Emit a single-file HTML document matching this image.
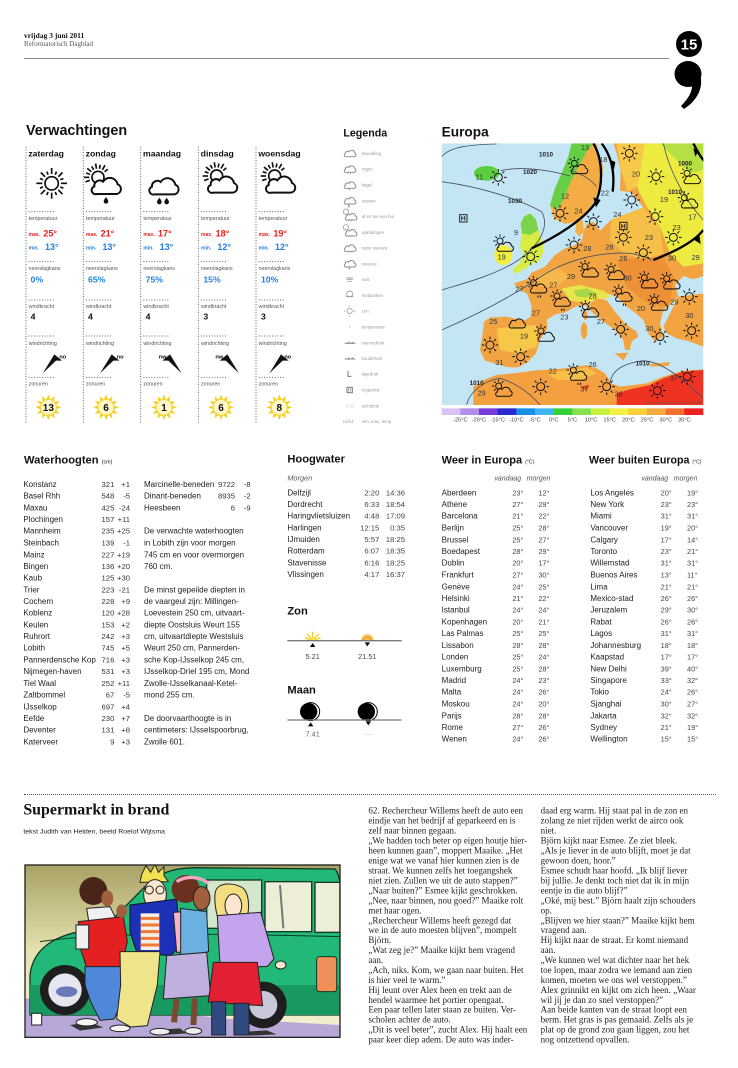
<!DOCTYPE html>
<html><head><meta charset="utf-8">
<style>
body{margin:0;width:738px;height:1068px;background:#fff;position:relative;overflow:hidden;font-family:"Liberation Sans",sans-serif;}
svg{position:absolute;display:block;overflow:visible}
.ab{position:absolute;white-space:nowrap}
</style></head><body>

<div class="ab" style="left:24px;top:31px;font:bold 7.5px 'Liberation Serif',serif;color:#111">vrijdag 3 juni 2011</div>
<div class="ab" style="left:24px;top:40px;font:7px 'Liberation Serif',serif;color:#555">Reformatorisch Dagblad</div>
<div class="ab" style="left:24px;top:58px;width:645px;height:1px;background:#8a8a8a"></div>
<svg style="left:660px;top:25px" width="60" height="90" viewBox="0 0 60 90">
<circle cx="29" cy="19" r="13" fill="#000"/>
<text x="29" y="24.5" font-size="15" font-weight="bold" fill="#fff" text-anchor="middle" font-family="Liberation Sans">15</text>
<ellipse cx="28" cy="49" rx="13.5" ry="13" fill="#000"/>
<path d="M36,42 C45,53 43,72 24,84 L21,81 C32,70 34,61 30,57 Z" fill="#000"/>
</svg>

<!-- Verwachtingen -->
<svg style="left:20px;top:120px" width="310" height="310" viewBox="0 0 930 930" font-family="Liberation Sans">
<defs>
<path id="cl" d="M18,55 H76 A15,15 0 0 0 80,26 A24,24 0 0 0 36,18 A16,16 0 0 0 10,32 A12,12 0 0 0 18,55 Z" fill="#fff" stroke="#111" stroke-width="6"/>
<g id="rays" stroke="#111" stroke-width="5"><line x1="0" y1="-26" x2="0" y2="-40" transform="rotate(-110)"/><line x1="0" y1="-26" x2="0" y2="-42" transform="rotate(-90)"/><line x1="0" y1="-26" x2="0" y2="-38" transform="rotate(-70)"/><line x1="0" y1="-26" x2="0" y2="-42" transform="rotate(-50)"/><line x1="0" y1="-26" x2="0" y2="-38" transform="rotate(-30)"/><line x1="0" y1="-26" x2="0" y2="-42" transform="rotate(-10)"/><line x1="0" y1="-26" x2="0" y2="-38" transform="rotate(10)"/><line x1="0" y1="-26" x2="0" y2="-42" transform="rotate(30)"/><line x1="0" y1="-26" x2="0" y2="-38" transform="rotate(50)"/></g>
<path id="drop" d="M0,-9 C3,-4 7,0 7,4 A7,7 0 0 1 -7,4 C-7,0 -3,-4 0,-9Z" fill="#111"/>
<g id="badge"><g fill="#f5cf1a"><polygon points="0,-39 5,-25 -5,-25"/><polygon points="0,-39 5,-25 -5,-25" transform="rotate(30)"/><polygon points="0,-39 5,-25 -5,-25" transform="rotate(60)"/><polygon points="0,-39 5,-25 -5,-25" transform="rotate(90)"/><polygon points="0,-39 5,-25 -5,-25" transform="rotate(120)"/><polygon points="0,-39 5,-25 -5,-25" transform="rotate(150)"/><polygon points="0,-39 5,-25 -5,-25" transform="rotate(180)"/><polygon points="0,-39 5,-25 -5,-25" transform="rotate(210)"/><polygon points="0,-39 5,-25 -5,-25" transform="rotate(240)"/><polygon points="0,-39 5,-25 -5,-25" transform="rotate(270)"/><polygon points="0,-39 5,-25 -5,-25" transform="rotate(300)"/><polygon points="0,-39 5,-25 -5,-25" transform="rotate(330)"/></g><circle r="24" fill="#fff7c8" stroke="#f5d020" stroke-width="3"/></g>
</defs>
<text x="18" y="45" font-size="43" font-weight="bold" fill="#111">Verwachtingen</text>
<g stroke="#666" stroke-width="3" stroke-dasharray="3 5">
<line x1="18" y1="80" x2="18" y2="912"/><line x1="190" y1="80" x2="190" y2="912"/><line x1="362" y1="80" x2="362" y2="912"/><line x1="535" y1="80" x2="535" y2="912"/><line x1="708" y1="80" x2="708" y2="912"/>
<path d="M26,275H103M198,275H275M370,275H447M543,275H620M716,275H793 M26,425H103M198,425H275M370,425H447M543,425H620M716,425H793 M26,540H103M198,540H275M370,540H447M543,540H620M716,540H793 M26,648H103M198,648H275M370,648H447M543,648H620M716,648H793 M26,772H103M198,772H275M370,772H447M543,772H620M716,772H793"/>
</g>
<g font-size="26" font-weight="bold" fill="#111">
<text x="25" y="110">zaterdag</text><text x="197" y="110">zondag</text><text x="369" y="110">maandag</text><text x="542" y="110">dinsdag</text><text x="715" y="110">woensdag</text>
</g>
<g transform="translate(95,190)" stroke="#111" stroke-width="5" fill="none"><circle r="20"/>
<g><line x1="0" y1="-28" x2="0" y2="-46"/><line x1="0" y1="-28" x2="0" y2="-38" transform="rotate(22.5)"/><line x1="0" y1="-28" x2="0" y2="-46" transform="rotate(45)"/><line x1="0" y1="-28" x2="0" y2="-38" transform="rotate(67.5)"/><line x1="0" y1="-28" x2="0" y2="-46" transform="rotate(90)"/><line x1="0" y1="-28" x2="0" y2="-38" transform="rotate(112.5)"/><line x1="0" y1="-28" x2="0" y2="-46" transform="rotate(135)"/><line x1="0" y1="-28" x2="0" y2="-38" transform="rotate(157.5)"/><line x1="0" y1="-28" x2="0" y2="-46" transform="rotate(180)"/><line x1="0" y1="-28" x2="0" y2="-38" transform="rotate(202.5)"/><line x1="0" y1="-28" x2="0" y2="-46" transform="rotate(225)"/><line x1="0" y1="-28" x2="0" y2="-38" transform="rotate(247.5)"/><line x1="0" y1="-28" x2="0" y2="-46" transform="rotate(270)"/><line x1="0" y1="-28" x2="0" y2="-38" transform="rotate(292.5)"/><line x1="0" y1="-28" x2="0" y2="-46" transform="rotate(315)"/><line x1="0" y1="-28" x2="0" y2="-38" transform="rotate(337.5)"/></g></g>
<g transform="translate(234,172)"><circle r="18" fill="none" stroke="#111" stroke-width="5"/><use href="#rays"/></g>
<use href="#cl" transform="translate(213,167)"/><use href="#drop" x="258" y="240"/>
<use href="#cl" transform="translate(386,168)"/><use href="#drop" x="418" y="242"/><use href="#drop" x="440" y="242"/>
<g transform="translate(590,168)"><circle r="18" fill="none" stroke="#111" stroke-width="5"/><use href="#rays"/></g>
<use href="#cl" transform="translate(562,163)"/>
<g transform="translate(764,168)"><circle r="18" fill="none" stroke="#111" stroke-width="5"/><use href="#rays"/></g>
<use href="#cl" transform="translate(736,163)"/>
<g font-size="16" fill="#555">
<text x="26" y="300">temperatuur</text><text x="198" y="300">temperatuur</text><text x="370" y="300">temperatuur</text><text x="543" y="300">temperatuur</text><text x="716" y="300">temperatuur</text>
<text x="26" y="450">neerslagkans</text><text x="198" y="450">neerslagkans</text><text x="370" y="450">neerslagkans</text><text x="543" y="450">neerslagkans</text><text x="716" y="450">neerslagkans</text>
<text x="26" y="564">windkracht</text><text x="198" y="564">windkracht</text><text x="370" y="564">windkracht</text><text x="543" y="564">windkracht</text><text x="716" y="564">windkracht</text>
<text x="26" y="675">windrichting</text><text x="198" y="675">windrichting</text><text x="370" y="675">windrichting</text><text x="543" y="675">windrichting</text><text x="716" y="675">windrichting</text>
<text x="26" y="796">zonuren</text><text x="198" y="796">zonuren</text><text x="370" y="796">zonuren</text><text x="543" y="796">zonuren</text><text x="716" y="796">zonuren</text>
</g>
<g fill="#e8201c" font-weight="bold">
<g font-size="15"><text x="26" y="348">max.</text><text x="198" y="348">max.</text><text x="370" y="348">max.</text><text x="543" y="348">max.</text><text x="716" y="348">max.</text></g>
<g font-size="27"><text x="70" y="350">25°</text><text x="242" y="350">21°</text><text x="414" y="350">17°</text><text x="587" y="350">18°</text><text x="760" y="350">19°</text></g>
</g>
<g fill="#2080e0" font-weight="bold">
<g font-size="15"><text x="26" y="388">min.</text><text x="198" y="388">min.</text><text x="370" y="388">min.</text><text x="543" y="388">min.</text><text x="716" y="388">min.</text></g>
<g font-size="27"><text x="75" y="390">13°</text><text x="247" y="390">13°</text><text x="419" y="390">13°</text><text x="592" y="390">12°</text><text x="765" y="390">12°</text></g>
<g font-size="26"><text x="32" y="487">0%</text><text x="204" y="487">65%</text><text x="377" y="487">75%</text><text x="550" y="487">15%</text><text x="723" y="487">10%</text></g>
</g>
<g font-size="26" font-weight="bold" fill="#111"><text x="32" y="598">4</text><text x="204" y="598">4</text><text x="377" y="598">4</text><text x="550" y="598">3</text><text x="723" y="598">3</text></g>
<g fill="#111">
<polygon points="68,760 103,703 126,722 108,722"/><polygon points="240,760 275,703 298,722 280,722"/>
<polygon points="485,760 450,703 427,722 445,722"/><polygon points="657,760 622,703 599,722 617,722"/>
<polygon points="748,760 783,703 806,722 788,722"/>
</g>
<g font-size="17" font-weight="bold" fill="#111"><text x="118" y="716">no</text><text x="290" y="716">no</text><text x="416" y="716">nw</text><text x="586" y="716">nw</text><text x="793" y="716">no</text></g>
<use href="#badge" x="85" y="862"/><use href="#badge" x="258" y="862"/><use href="#badge" x="432" y="862"/><use href="#badge" x="603" y="862"/><use href="#badge" x="778" y="862"/>
<g font-size="30" font-weight="bold" fill="#111" text-anchor="middle"><text x="85" y="873">13</text><text x="258" y="873">6</text><text x="432" y="873">1</text><text x="603" y="873">6</text><text x="778" y="873">8</text></g>
</svg>

<!-- Legenda -->
<svg style="left:330px;top:120px" width="110" height="310" viewBox="0 0 330 930" font-family="Liberation Sans">
<defs><path id="lc" d="M18,55 H76 A15,15 0 0 0 80,26 A24,24 0 0 0 36,18 A16,16 0 0 0 10,32 A12,12 0 0 0 18,55 Z" fill="#fff" stroke="#888" stroke-width="7" transform="scale(0.4)"/></defs>
<text x="40" y="50" font-size="32" font-weight="bold" fill="#111">Legenda</text>
<g>
<use href="#lc" x="42" y="88"/>
<use href="#lc" x="42" y="135"/><path d="M54,158v4M62,158v4" stroke="#888" stroke-width="2"/>
<use href="#lc" x="42" y="183"/><path d="M58,206v4" stroke="#888" stroke-width="3"/>
<use href="#lc" x="42" y="230"/><path d="M57,252l-3,6h5l-3,6" stroke="#888" stroke-width="2" fill="none"/>
<circle cx="48" cy="275" r="8" fill="none" stroke="#888" stroke-width="2"/><use href="#lc" x="45" y="278"/><path d="M56,300v4M63,300v4" stroke="#888" stroke-width="2"/>
<circle cx="48" cy="322" r="8" fill="none" stroke="#888" stroke-width="2"/><use href="#lc" x="45" y="326"/>
<use href="#lc" x="42" y="372"/><path d="M54,394v4M63,394v4" stroke="#888" stroke-width="2"/>
<use href="#lc" x="42" y="419"/><path d="M58,442v6M55,445h6" stroke="#888" stroke-width="2"/>
<path d="M48,474h22M50,479h18M52,484h14" stroke="#888" stroke-width="2"/>
<circle cx="59" cy="522" r="9" fill="none" stroke="#888" stroke-width="2"/><path d="M48,530h22" stroke="#888" stroke-width="2"/>
<circle cx="59" cy="573" r="8" fill="none" stroke="#888" stroke-width="2"/><path d="M59,560v-4M59,586v4M46,573h-4M72,573h4" stroke="#888" stroke-width="2"/>
<circle cx="59" cy="620" r="2" fill="#aaa"/>
<path d="M44,670h32" stroke="#888" stroke-width="3"/><path d="M52,670a4,4 0 0 1 8,0M63,670a4,4 0 0 1 8,0" fill="#888"/>
<path d="M44,717h32" stroke="#888" stroke-width="3"/><path d="M52,717l4,-6l4,6M63,717l4,-6l4,6" fill="#888"/>
<path d="M54,753v16h10" stroke="#777" stroke-width="3" fill="none"/>
<rect x="51" y="802" width="16" height="16" fill="none" stroke="#777" stroke-width="3"/><path d="M56,805v10M62,805v10" stroke="#777" stroke-width="2"/>
</g>
<g font-size="13" fill="#999">
<text x="95" y="105">bewolking</text><text x="95" y="152">regen</text><text x="95" y="200">hagel</text><text x="95" y="247">onweer</text><text x="95" y="294">af en toe een bui</text><text x="95" y="342">opklaringen</text><text x="95" y="389">natte sneeuw</text><text x="95" y="436">sneeuw</text><text x="95" y="483">mist</text><text x="95" y="531">motbanken</text><text x="95" y="578">zon</text><text x="95" y="625">temperatuur</text><text x="95" y="673">warmtefront</text><text x="95" y="720">koudefront</text><text x="95" y="767">lagedruk</text><text x="95" y="815">hogedruk</text><text x="95" y="862">luchtdruk</text><text x="95" y="909">min. max. temp.</text>
<text x="45" y="862" fill="#ccc">1010</text><text x="38" y="909">10/14</text>
</g>
</svg>

<!-- Europa map -->
<svg style="left:430px;top:120px" width="290" height="310" viewBox="0 0 870 930" font-family="Liberation Sans">
<defs>
<clipPath id="mapc"><rect x="35" y="70" width="785" height="785"/></clipPath>
<g id="ms" fill="none" stroke="#111" stroke-width="3"><circle r="12"/><path d="M0,-17V-25M0,17V25M-17,0H-25M17,0H25M12,-12L18,-18M-12,-12L-18,-18M12,12L18,18M-12,12L-18,18"/></g>
<path id="mcp" d="M18,55 H76 A15,15 0 0 0 80,26 A24,24 0 0 0 36,18 A16,16 0 0 0 10,32 A12,12 0 0 0 18,55 Z" transform="translate(-22,-12) scale(0.56)" fill="none" stroke="#111" stroke-width="5.5"/>
<g id="mcs"><g transform="translate(-12,-12)" fill="none" stroke="#111" stroke-width="3"><circle r="9"/><path d="M0,-13V-20M-13,0H-20M-9,-9L-14,-14M9,-9L14,-14M-9,9L-14,14"/></g><use href="#mcp"/></g>
<g id="mr"><use href="#mcs"/><path d="M2,26v7M9,26v7" stroke="#111" stroke-width="3"/></g>
</defs>
<text x="35" y="50" font-size="41" font-weight="bold" fill="#111">Europa</text>
<g clip-path="url(#mapc)">
<rect x="35" y="70" width="785" height="785" fill="#c4e6f4"/>
<ellipse cx="170" cy="160" rx="38" ry="22" fill="#5ccc40"/>
<polygon points="360,255 372,295 405,312 440,305 470,280 495,240 515,185 520,140 505,100 500,70 425,70 415,110 395,160 375,205" fill="#f4ad45"/>
<polygon points="360,255 380,270 400,240 420,190 445,140 470,95 490,70 425,70 415,110 395,160 375,205" fill="#66cf46"/>
<polygon points="550,70 820,70 820,468 790,478 760,468 735,495 745,530 720,555 700,570 690,610 700,650 675,665 655,640 640,600 615,578 590,560 560,530 525,518 500,532 470,556 440,558 405,578 375,583 350,600 352,625 330,660 318,700 295,725 265,742 235,742 200,732 165,722 150,690 158,640 162,605 180,592 230,590 282,602 302,590 305,558 292,522 262,505 252,490 290,478 305,458 345,440 375,405 405,385 430,378 455,362 462,330 470,312 490,305 510,332 545,298 600,290 640,262 605,218 570,212 572,150 560,100" fill="#f2a443"/>
<polygon points="640,70 820,70 820,430 760,440 720,400 690,320 650,260 625,210 605,130" fill="#eeeb40"/>
<polygon points="690,70 820,70 820,150 780,160 740,120" fill="#b4e044"/>
<polygon points="560,70 645,70 622,200 592,215 573,150" fill="#f8c84a"/>
<polygon points="545,298 640,262 690,320 700,400 640,420 580,400 540,360" fill="#f6c048"/>
<polygon points="560,420 700,410 730,470 720,555 690,560 640,540 590,500" fill="#ee9036"/>
<polygon points="395,505 450,495 520,512 545,530 500,542 462,548 420,542" fill="#e8e44a"/>
<polygon points="430,512 470,505 500,520 470,532 440,530" fill="#a8d848"/>
<polygon points="200,625 320,615 322,680 260,700 210,690" fill="#f6c848"/>
<polygon points="320,470 380,440 420,470 380,500 330,500" fill="#f6b84a"/>
<polygon points="282,290 300,280 318,298 325,330 338,365 340,395 330,420 305,432 282,448 255,462 248,448 268,430 282,405 270,380 276,340 272,310" fill="#d8ec44"/>
<polygon points="282,290 300,280 318,298 325,330 300,345 276,340 272,310" fill="#7cd448"/>
<ellipse cx="220" cy="405" rx="27" ry="30" fill="#f0ec40"/>
<polygon points="440,305 458,300 462,335 448,350 435,335" fill="#f4b048"/>
<polygon points="500,535 530,540 555,575 585,610 620,635 625,650 605,665 600,690 585,690 580,660 555,630 520,605 490,580 470,560" fill="#f3a442"/>
<polygon points="555,700 595,698 580,722" fill="#f3a442"/>
<ellipse cx="462" cy="632" rx="10" ry="25" fill="#f3a442"/><ellipse cx="466" cy="585" rx="7" ry="15" fill="#f3a442"/>
<polygon points="745,530 820,520 820,680 780,665 740,655 710,640 700,620 720,580" fill="#f2a443"/>
<polygon points="660,732 720,726 715,738 662,740" fill="#f3a442"/>
<polygon points="130,855 130,800 165,778 200,765 250,760 310,752 370,748 430,742 470,735 500,745 525,760 545,790 570,800 610,795 650,790 700,770 760,752 820,748 820,855" fill="#f4a040"/>
<polygon points="350,760 420,750 470,742 500,760 450,780 380,780" fill="#f6c048"/>
<polygon points="560,855 560,820 600,808 660,795 700,775 760,755 820,750 820,855" fill="#ee3322"/>
<polygon points="450,800 478,795 470,812" fill="#ee4422"/>
<g fill="none" stroke="#4a5060" stroke-width="2.5">
<path d="M35,110 C60,80 120,74 200,72"/>
<path d="M212,152 C260,140 340,145 420,168"/>
<path d="M35,185 C150,200 260,235 335,275 C360,320 330,380 250,430 C180,470 100,490 35,510"/>
<path d="M35,630 C150,580 260,520 340,465 C420,415 520,395 600,400 C630,405 650,412 665,420"/>
<path d="M700,70 C715,140 755,230 820,300"/>
<path d="M540,790 C545,750 580,730 640,722 C700,725 760,780 820,835"/>
<path d="M110,855 C120,810 170,780 210,775 C260,790 300,820 330,855"/>
<path d="M420,150 C450,160 480,175 500,200"/>
</g>
<g fill="none" stroke="#000" stroke-width="7">
<path d="M305,385 C380,350 460,300 495,250 C520,200 520,120 490,70"/>
<path d="M515,70 C545,110 555,160 548,215"/>
<path d="M670,420 C720,400 790,370 820,330"/>
<path d="M790,70 C800,90 810,110 822,122"/>
</g>
<g fill="#000"><polygon points="490,232 512,240 498,262"/><polygon points="538,118 556,126 552,148"/><polygon points="790,358 808,345 812,372"/><polygon points="790,85 806,92 796,110"/></g>
<g>
<use href="#ms" x="205" y="172"/><use href="#ms" x="598" y="100"/><use href="#ms" x="678" y="170"/><use href="#ms" x="605" y="240"/><use href="#ms" x="675" y="290"/><use href="#ms" x="390" y="280"/><use href="#ms" x="490" y="305"/><use href="#ms" x="580" y="352"/><use href="#ms" x="640" y="398"/><use href="#ms" x="730" y="352"/><use href="#ms" x="432" y="375"/><use href="#ms" x="302" y="410"/><use href="#ms" x="778" y="530"/><use href="#ms" x="572" y="628"/><use href="#ms" x="690" y="650"/><use href="#ms" x="785" y="632"/><use href="#ms" x="180" y="675"/><use href="#ms" x="272" y="710"/><use href="#ms" x="332" y="800"/><use href="#ms" x="530" y="800"/><use href="#ms" x="682" y="812"/><use href="#ms" x="772" y="770"/>
<use href="#mcs" x="445" y="142"/><use href="#mcs" x="783" y="172"/><use href="#mcs" x="775" y="245"/><use href="#mcs" x="222" y="375"/><use href="#mcs" x="477" y="452"/><use href="#mcs" x="555" y="460"/><use href="#mcs" x="655" y="485"/><use href="#mcs" x="722" y="488"/><use href="#mcs" x="685" y="552"/><use href="#mcs" x="345" y="645"/><use href="#mcs" x="218" y="810"/>
<use href="#mr" x="322" y="500"/><use href="#mr" x="578" y="525"/><use href="#mr" x="442" y="762"/><use href="#mr" x="393" y="540"/>
<use href="#mcp" x="258" y="605"/><use href="#mcs" x="478" y="572"/>
</g>
<g font-size="22" fill="#333" text-anchor="middle">
<text x="465" y="90">13</text><text x="520" y="126">18</text><text x="618" y="170">20</text><text x="148" y="178">11</text><text x="405" y="236">12</text><text x="525" y="226">22</text><text x="702" y="246">19</text><text x="787" y="298">17</text><text x="445" y="281">24</text><text x="562" y="291">24</text><text x="740" y="330">23</text><text x="657" y="360">23</text><text x="258" y="345">9</text><text x="472" y="393">28</text><text x="538" y="388">28</text><text x="580" y="423">26</text><text x="726" y="421">30</text><text x="797" y="420">29</text><text x="215" y="418">19</text><text x="423" y="477">29</text><text x="593" y="481">30</text><text x="370" y="503">27</text><text x="268" y="514">27</text><text x="488" y="535">28</text><text x="733" y="554">29</text><text x="633" y="573">20</text><text x="318" y="586">27</text><text x="403" y="598">23</text><text x="513" y="612">27</text><text x="658" y="633">30</text><text x="778" y="594">30</text><text x="190" y="612">25</text><text x="282" y="655">19</text><text x="208" y="735">31</text><text x="368" y="760">22</text><text x="488" y="741">26</text><text x="732" y="781">37</text><text x="463" y="814">37</text><text x="566" y="830">36</text><text x="155" y="826">29</text>
</g>
<g font-size="19" font-weight="bold" fill="#222" text-anchor="middle">
<text x="348" y="110">1010</text><text x="300" y="162">1020</text><text x="765" y="137">1000</text><text x="735" y="222">1010</text><text x="255" y="249">1030</text><text x="638" y="737">1010</text><text x="140" y="795">1010</text>
</g>
<g><rect x="89" y="284" width="22" height="22" fill="none" stroke="#222" stroke-width="3"/><text x="100" y="302" font-size="20" font-weight="bold" text-anchor="middle" fill="#222">H</text>
<rect x="569" y="307" width="22" height="22" fill="none" stroke="#222" stroke-width="3"/><text x="580" y="325" font-size="20" font-weight="bold" text-anchor="middle" fill="#222">H</text></g>
<text x="815" y="850" font-size="9" fill="#555" text-anchor="end">Kaart: weerbureau, eigen bewerking 2011</text>
</g>
<g>
<rect x="35" y="865" width="57" height="20" fill="#d8c4f4"/><rect x="91" y="865" width="57" height="20" fill="#b090e8"/><rect x="147" y="865" width="57" height="20" fill="#7a3ad8"/><rect x="203" y="865" width="57" height="20" fill="#2a2ad0"/><rect x="259" y="865" width="57" height="20" fill="#1890e8"/><rect x="315" y="865" width="57" height="20" fill="#40b4f0"/><rect x="371" y="865" width="57" height="20" fill="#38d038"/><rect x="427" y="865" width="57" height="20" fill="#88e050"/><rect x="483" y="865" width="57" height="20" fill="#c8f040"/><rect x="539" y="865" width="57" height="20" fill="#f4f040"/><rect x="595" y="865" width="57" height="20" fill="#f8d038"/><rect x="651" y="865" width="57" height="20" fill="#f4a840"/><rect x="707" y="865" width="57" height="20" fill="#f07030"/><rect x="763" y="865" width="57" height="20" fill="#ee2020"/>
</g>
<g font-size="17" fill="#444" text-anchor="middle">
<text x="91" y="905">-25°C</text><text x="147" y="905">-20°C</text><text x="203" y="905">-15°C</text><text x="259" y="905">-10°C</text><text x="315" y="905">-5°C</text><text x="371" y="905">0°C</text><text x="427" y="905">5°C</text><text x="483" y="905">10°C</text><text x="539" y="905">15°C</text><text x="595" y="905">20°C</text><text x="651" y="905">25°C</text><text x="707" y="905">30°C</text><text x="763" y="905">35°C</text>
</g>
</svg>

<!-- Waterhoogten -->
<svg style="left:20px;top:445px" width="260" height="340" viewBox="0 0 780 1020" font-family="Liberation Sans">
<text x="12" y="55" font-size="33.5" font-weight="bold" fill="#111">Waterhoogten <tspan font-size="16" font-weight="normal">(cm)</tspan></text>
<g font-size="24" fill="#222">
<text x="10" y="126">Konstanz</text><text x="10" y="161">Basel Rhh</text><text x="10" y="196">Maxau</text><text x="10" y="231">Plochingen</text><text x="10" y="266">Mannheim</text><text x="10" y="302">Steinbach</text><text x="10" y="337">Mainz</text><text x="10" y="372">Bingen</text><text x="10" y="407">Kaub</text><text x="10" y="442">Trier</text><text x="10" y="477">Cochem</text><text x="10" y="512">Koblenz</text><text x="10" y="547">Keulen</text><text x="10" y="582">Ruhrort</text><text x="10" y="617">Lobith</text><text x="10" y="652">Pannerdensche Kop</text><text x="10" y="687">Nijmegen-haven</text><text x="10" y="723">Tiel Waal</text><text x="10" y="758">Zaltbommel</text><text x="10" y="793">IJsselkop</text><text x="10" y="828">Eefde</text><text x="10" y="863">Deventer</text><text x="10" y="898">Katerveer</text>
</g>
<g font-size="23" fill="#333" text-anchor="end">
<text x="283" y="126">321</text><text x="283" y="161">548</text><text x="283" y="196">425</text><text x="283" y="231">157</text><text x="283" y="266">235</text><text x="283" y="302">139</text><text x="283" y="337">227</text><text x="283" y="372">136</text><text x="283" y="407">125</text><text x="283" y="442">223</text><text x="283" y="477">228</text><text x="283" y="512">120</text><text x="283" y="547">153</text><text x="283" y="582">242</text><text x="283" y="617">745</text><text x="283" y="652">716</text><text x="283" y="687">531</text><text x="283" y="723">252</text><text x="283" y="758">67</text><text x="283" y="793">697</text><text x="283" y="828">230</text><text x="283" y="863">131</text><text x="283" y="898">9</text>
<text x="330" y="126">+1</text><text x="330" y="161">-5</text><text x="330" y="196">-24</text><text x="330" y="231">+11</text><text x="330" y="266">+25</text><text x="330" y="302">-1</text><text x="330" y="337">+19</text><text x="330" y="372">+20</text><text x="330" y="407">+30</text><text x="330" y="442">-21</text><text x="330" y="477">+9</text><text x="330" y="512">+28</text><text x="330" y="547">+2</text><text x="330" y="582">+3</text><text x="330" y="617">+5</text><text x="330" y="652">+3</text><text x="330" y="687">+3</text><text x="330" y="723">+11</text><text x="330" y="758">-5</text><text x="330" y="793">+4</text><text x="330" y="828">+7</text><text x="330" y="863">+8</text><text x="330" y="898">+3</text>
<text x="645" y="126">9722</text><text x="645" y="161">8935</text><text x="645" y="196">6</text>
<text x="692" y="126">-8</text><text x="692" y="161">-2</text><text x="692" y="196">-9</text>
</g>
<g font-size="24" fill="#222">
<text x="372" y="126">Marcinelle-beneden</text><text x="372" y="161">Dinant-beneden</text><text x="372" y="196">Heesbeen</text>
<text x="372" y="266">De verwachte waterhoogten</text><text x="372" y="302">in Lobith zijn voor morgen</text><text x="372" y="337">745 cm en voor overmorgen</text><text x="372" y="372">760 cm.</text>
<text x="372" y="442">De minst gepeilde diepten in</text><text x="372" y="477">de vaargeul zijn: Millingen-</text><text x="372" y="512">Loevestein 250 cm, uitvaart-</text><text x="372" y="547">diepte Oostsluis Weurt 155</text><text x="372" y="582">cm, uitvaartdiepte Westsluis</text><text x="372" y="617">Weurt 250 cm, Pannerden-</text><text x="372" y="652">sche Kop-IJsselkop 245 cm,</text><text x="372" y="687">IJsselkop-Driel 195 cm, Mond</text><text x="372" y="723">Zwolle-IJsselkanaal-Ketel-</text><text x="372" y="758">mond 255 cm.</text>
<text x="372" y="828">De doorvaarthoogte is in</text><text x="372" y="863">centimeters: IJsselspoorbrug,</text><text x="372" y="898">Zwolle 601.</text>
</g>
</svg>

<!-- Hoogwater / Zon / Maan -->
<svg style="left:280px;top:445px" width="160" height="340" viewBox="0 0 480 1020" font-family="Liberation Sans">
<text x="22" y="53" font-size="33.5" font-weight="bold" fill="#111">Hoogwater</text>
<text x="22" y="106" font-size="22" font-style="italic" fill="#555">Morgen</text>
<g font-size="24" fill="#222">
<text x="22" y="151">Delfzijl</text><text x="22" y="186">Dordrecht</text><text x="22" y="221">Haringvlietsluizen</text><text x="22" y="256">Harlingen</text><text x="22" y="291">IJmuiden</text><text x="22" y="326">Rotterdam</text><text x="22" y="361">Stavenisse</text><text x="22" y="396">Vlissingen</text>
</g>
<g font-size="23" fill="#444" text-anchor="end">
<text x="298" y="151">2:20</text><text x="298" y="186">6:33</text><text x="298" y="221">4:48</text><text x="298" y="256">12:15</text><text x="298" y="291">5:57</text><text x="298" y="326">6:07</text><text x="298" y="361">6:16</text><text x="298" y="396">4:17</text>
<text x="375" y="151">14:36</text><text x="375" y="186">18:54</text><text x="375" y="221">17:09</text><text x="375" y="256">0:35</text><text x="375" y="291">18:25</text><text x="375" y="326">18:35</text><text x="375" y="361">18:25</text><text x="375" y="396">16:37</text>
</g>
<text x="22" y="508" font-size="33.5" font-weight="bold" fill="#111">Zon</text>
<g stroke="#f0d020" stroke-width="4"><line x1="98" y1="587" x2="98" y2="560"/><line x1="98" y1="587" x2="80" y2="566"/><line x1="98" y1="587" x2="116" y2="566"/><line x1="98" y1="587" x2="74" y2="578"/><line x1="98" y1="587" x2="122" y2="578"/></g>
<path d="M86,587 A12,12 0 0 1 110,587 Z" fill="#f8e040"/>
<path d="M242,587 A20,20 0 0 1 282,587Z" fill="#f8cc70"/><path d="M248,587 A14,14 0 0 1 276,587Z" fill="#f4a030"/><path d="M254,587 A8,8 0 0 1 270,587 Z" fill="#f8c860"/>
<line x1="22" y1="587" x2="365" y2="587" stroke="#777" stroke-width="4"/>
<polygon points="90,606 106,606 98,594" fill="#000"/><polygon points="254,592 270,592 262,604" fill="#000"/>
<g font-size="22" fill="#444" text-anchor="middle"><text x="98" y="642">5.21</text><text x="262" y="642">21.51</text></g>
<text x="22" y="746" font-size="33.5" font-weight="bold" fill="#111">Maan</text>
<circle cx="92" cy="800" r="27" fill="#fff" stroke="#000" stroke-width="3"/><circle cx="86" cy="800" r="26" fill="#000"/>
<circle cx="265" cy="800" r="27" fill="#fff" stroke="#000" stroke-width="3"/><circle cx="259" cy="800" r="26" fill="#000"/>
<line x1="22" y1="825" x2="365" y2="825" stroke="#777" stroke-width="4"/>
<polygon points="84,844 100,844 92,832" fill="#000"/><polygon points="257,829 273,829 265,841" fill="#000"/>
<text x="98" y="874" font-size="22" fill="#666" text-anchor="middle">7.41</text>
<text x="265" y="872" font-size="16" fill="#bbb" text-anchor="middle">--.--</text>
</svg>

<!-- Weer in Europa -->
<svg style="left:435px;top:445px" width="150" height="340" viewBox="0 0 450 1020" font-family="Liberation Sans">
<text x="20" y="55" font-size="33" font-weight="bold" fill="#111">Weer in Europa <tspan font-size="15" font-weight="normal">(°C)</tspan></text>
<text x="178" y="106" font-size="21" font-style="italic" fill="#555">vandaag</text><text x="275" y="106" font-size="21" font-style="italic" fill="#555">morgen</text>
<g font-size="24" fill="#222">
<text x="20" y="151">Aberdeen</text><text x="20" y="186">Athene</text><text x="20" y="221">Barcelona</text><text x="20" y="257">Berlijn</text><text x="20" y="292">Brussel</text><text x="20" y="327">Boedapest</text><text x="20" y="362">Dublin</text><text x="20" y="397">Frankfurt</text><text x="20" y="433">Genève</text><text x="20" y="468">Helsinki</text><text x="20" y="503">Istanbul</text><text x="20" y="538">Kopenhagen</text><text x="20" y="573">Las Palmas</text><text x="20" y="609">Lissabon</text><text x="20" y="644">Londen</text><text x="20" y="679">Luxemburg</text><text x="20" y="714">Madrid</text><text x="20" y="749">Malta</text><text x="20" y="785">Moskou</text><text x="20" y="820">Parijs</text><text x="20" y="855">Rome</text><text x="20" y="890">Wenen</text>
</g>
<g font-size="22" fill="#444">
<text x="232" y="151">23°</text><text x="232" y="186">27°</text><text x="232" y="221">21°</text><text x="232" y="257">25°</text><text x="232" y="292">25°</text><text x="232" y="327">28°</text><text x="232" y="362">20°</text><text x="232" y="397">27°</text><text x="232" y="433">24°</text><text x="232" y="468">21°</text><text x="232" y="503">24°</text><text x="232" y="538">20°</text><text x="232" y="573">25°</text><text x="232" y="609">28°</text><text x="232" y="644">25°</text><text x="232" y="679">25°</text><text x="232" y="714">24°</text><text x="232" y="749">24°</text><text x="232" y="785">24°</text><text x="232" y="820">28°</text><text x="232" y="855">27°</text><text x="232" y="890">24°</text>
<text x="310" y="151">12°</text><text x="310" y="186">29°</text><text x="310" y="221">22°</text><text x="310" y="257">28°</text><text x="310" y="292">27°</text><text x="310" y="327">29°</text><text x="310" y="362">17°</text><text x="310" y="397">30°</text><text x="310" y="433">25°</text><text x="310" y="468">22°</text><text x="310" y="503">24°</text><text x="310" y="538">21°</text><text x="310" y="573">25°</text><text x="310" y="609">28°</text><text x="310" y="644">24°</text><text x="310" y="679">28°</text><text x="310" y="714">23°</text><text x="310" y="749">26°</text><text x="310" y="785">20°</text><text x="310" y="820">28°</text><text x="310" y="855">26°</text><text x="310" y="890">26°</text>
</g>
</svg>

<!-- Weer buiten Europa -->
<svg style="left:583px;top:445px" width="155" height="340" viewBox="0 0 465 1020" font-family="Liberation Sans">
<text x="18" y="55" font-size="32" font-weight="bold" fill="#111">Weer buiten Europa <tspan font-size="15" font-weight="normal">(°C)</tspan></text>
<text x="175" y="106" font-size="21" font-style="italic" fill="#555">vandaag</text><text x="272" y="106" font-size="21" font-style="italic" fill="#555">morgen</text>
<g font-size="24" fill="#222">
<text x="22" y="151">Los Angeles</text><text x="22" y="186">New York</text><text x="22" y="221">Miami</text><text x="22" y="257">Vancouver</text><text x="22" y="292">Calgary</text><text x="22" y="327">Toronto</text><text x="22" y="362">Willemstad</text><text x="22" y="397">Buenos Aires</text><text x="22" y="433">Lima</text><text x="22" y="468">Mexico-stad</text><text x="22" y="503">Jeruzalem</text><text x="22" y="538">Rabat</text><text x="22" y="573">Lagos</text><text x="22" y="609">Johannesburg</text><text x="22" y="644">Kaapstad</text><text x="22" y="679">New Delhi</text><text x="22" y="714">Singapore</text><text x="22" y="749">Tokio</text><text x="22" y="785">Sjanghai</text><text x="22" y="820">Jakarta</text><text x="22" y="855">Sydney</text><text x="22" y="890">Wellington</text>
</g>
<g font-size="22" fill="#444">
<text x="233" y="151">20°</text><text x="233" y="186">23°</text><text x="233" y="221">31°</text><text x="233" y="257">19°</text><text x="233" y="292">17°</text><text x="233" y="327">23°</text><text x="233" y="362">31°</text><text x="233" y="397">13°</text><text x="233" y="433">21°</text><text x="233" y="468">26°</text><text x="233" y="503">29°</text><text x="233" y="538">26°</text><text x="233" y="573">31°</text><text x="233" y="609">18°</text><text x="233" y="644">17°</text><text x="233" y="679">39°</text><text x="233" y="714">33°</text><text x="233" y="749">24°</text><text x="233" y="785">30°</text><text x="233" y="820">32°</text><text x="233" y="855">21°</text><text x="233" y="890">15°</text>
<text x="312" y="151">19°</text><text x="312" y="186">23°</text><text x="312" y="221">31°</text><text x="312" y="257">20°</text><text x="312" y="292">14°</text><text x="312" y="327">21°</text><text x="312" y="362">31°</text><text x="312" y="397">11°</text><text x="312" y="433">21°</text><text x="312" y="468">26°</text><text x="312" y="503">30°</text><text x="312" y="538">26°</text><text x="312" y="573">31°</text><text x="312" y="609">18°</text><text x="312" y="644">17°</text><text x="312" y="679">40°</text><text x="312" y="714">32°</text><text x="312" y="749">26°</text><text x="312" y="785">27°</text><text x="312" y="820">32°</text><text x="312" y="855">19°</text><text x="312" y="890">15°</text>
</g>
</svg>

<div class="ab" style="left:24px;top:794px;width:692px;height:0;border-top:1px dotted #555"></div>

<!-- Supermarkt in brand -->
<svg style="left:20px;top:785px" width="330" height="283" viewBox="0 0 990 849" font-family="Liberation Serif">
<defs>
<clipPath id="ill"><rect x="15" y="240" width="945" height="517"/></clipPath>
<linearGradient id="bg" x1="0" y1="0" x2="0" y2="1"><stop offset="0" stop-color="#a8a266"/><stop offset="0.5" stop-color="#e6e2b0"/><stop offset="1" stop-color="#f4f0d4"/></linearGradient>
</defs>
<text x="10" y="88" font-size="46" font-weight="bold" fill="#111" textLength="438" lengthAdjust="spacingAndGlyphs">Supermarkt in brand</text>
<text x="10" y="146" font-size="18" fill="#222" font-family="Liberation Sans" textLength="425" lengthAdjust="spacingAndGlyphs">tekst Judith van Helden, beeld Roelof Wijtsma</text>
<g clip-path="url(#ill)">
<rect x="15" y="240" width="945" height="517" fill="url(#bg)"/>
<polygon points="15,640 300,660 600,700 960,720 960,757 15,757" fill="#b8a8d8"/>
<path d="M150,720 l60,-8 l40,15 l-70,10Z M400,735 l80,-5 l20,15 l-90,6Z M680,740 l60,-4 l30,12 l-80,4Z" fill="#333"/>
<path d="M30,570 C40,480 120,440 250,430 L380,300 C420,262 460,250 520,248 L945,252 C955,262 960,290 960,300 L960,690 L30,690 Z" fill="#22b878" stroke="#0f3a24" stroke-width="4"/>
<rect x="30" y="600" width="930" height="90" fill="#17995f"/>
<path d="M60,470 C200,450 400,440 960,455" fill="none" stroke="#0f3a24" stroke-width="3"/>
<rect x="560" y="285" width="165" height="145" fill="#d4e6cc" stroke="#0f3a24" stroke-width="4"/>
<rect x="735" y="290" width="140" height="150" fill="#eceed8" stroke="#0f3a24" stroke-width="4"/>
<rect x="885" y="292" width="75" height="150" fill="#eceed8" stroke="#0f3a24" stroke-width="4"/>
<line x1="780" y1="300" x2="790" y2="430" stroke="#777" stroke-width="6"/>
<rect x="890" y="515" width="60" height="105" rx="8" fill="#f09058" stroke="#0f3a24" stroke-width="3"/>
<circle cx="135" cy="615" r="75" fill="#1e1e1e"/><circle cx="135" cy="615" r="50" fill="#e6e6f0"/><ellipse cx="140" cy="620" rx="32" ry="16" fill="#6878b8"/>
<circle cx="730" cy="660" r="70" fill="#1e1e1e"/><circle cx="730" cy="660" r="42" fill="#c8c8d8"/>
<circle cx="220" cy="318" r="42" fill="#4a2418"/><ellipse cx="262" cy="340" rx="18" ry="24" fill="#a06040"/>
<polygon points="200,370 270,365 292,410 250,440 208,420" fill="#f0f0f0" stroke="#222" stroke-width="3"/>
<polygon points="175,410 310,395 322,470 305,545 200,548 178,480" fill="#e42020" stroke="#222" stroke-width="3"/>
<rect x="168" y="420" width="38" height="72" fill="#f0f0f0" stroke="#222" stroke-width="3"/>
<ellipse cx="305" cy="378" rx="16" ry="20" fill="#a06040"/>
<polygon points="195,545 305,545 312,640 282,702 240,706 212,650 195,600" fill="#4f88d8" stroke="#222" stroke-width="3"/>
<ellipse cx="200" cy="712" rx="32" ry="11" fill="#f4f4f4" stroke="#222" stroke-width="3"/>
<polygon points="365,268 378,242 392,262 405,238 415,262 432,245 432,272 445,290 360,292" fill="#f2e050" stroke="#222" stroke-width="3"/>
<ellipse cx="405" cy="328" rx="34" ry="44" fill="#fbe6d0" stroke="#222" stroke-width="3"/>
<circle cx="388" cy="315" r="12" fill="none" stroke="#222" stroke-width="3"/><circle cx="420" cy="315" r="12" fill="none" stroke="#222" stroke-width="3"/>
<polygon points="330,360 470,342 482,480 452,512 350,502 330,440" fill="#1c30b8" stroke="#111" stroke-width="3"/>
<rect x="362" y="385" width="56" height="110" fill="#f4f0e8"/>
<path d="M362,400h56M362,420h56M362,440h56M362,460h56M362,480h56" stroke="#f07838" stroke-width="9"/>
<polygon points="300,500 420,500 412,600 382,722 332,726 290,702 302,600" fill="#f0e48a" stroke="#222" stroke-width="3"/>
<ellipse cx="300" cy="730" rx="30" ry="10" fill="#f4f4f4" stroke="#222" stroke-width="3"/>
<circle cx="497" cy="312" r="42" fill="#6a3020"/><path d="M470,290 C500,270 540,275 565,295" stroke="#f4a4c4" stroke-width="10" fill="none"/>
<ellipse cx="545" cy="340" rx="25" ry="35" fill="#a06040" stroke="#222" stroke-width="3"/>
<polygon points="460,382 492,380 502,500 470,502" fill="#f4b4cc" stroke="#222" stroke-width="3"/>
<polygon points="482,370 560,380 566,500 482,520" fill="#6ab0e0" stroke="#222" stroke-width="3"/>
<polygon points="440,512 560,502 572,632 430,642" fill="#c0b0e0" stroke="#222" stroke-width="3"/>
<path d="M470,642 L462,712 M525,640 L520,720" stroke="#7a4a30" stroke-width="18"/>
<ellipse cx="420" cy="740" rx="30" ry="10" fill="#eee" stroke="#222" stroke-width="3"/><ellipse cx="520" cy="738" rx="25" ry="10" fill="#eee" stroke="#222" stroke-width="3"/>
<path d="M585,330 C585,290 640,290 670,310 C690,330 690,380 675,420 L600,420 C590,390 582,360 585,330Z" fill="#f4dc80" stroke="#222" stroke-width="3"/>
<ellipse cx="640" cy="362" rx="25" ry="35" fill="#fbe6d0" stroke="#222" stroke-width="3"/>
<polygon points="592,392 722,382 762,522 742,544 700,546 600,542" fill="#c4a4ec" stroke="#222" stroke-width="3"/>
<ellipse cx="782" cy="540" rx="16" ry="12" fill="#fbe6d0" stroke="#222" stroke-width="3"/>
<polygon points="580,532 712,532 728,662 565,652" fill="#e22034" stroke="#222" stroke-width="3"/>
<rect x="575" y="650" width="42" height="100" fill="#304a80" stroke="#222" stroke-width="3"/><rect x="642" y="655" width="45" height="95" fill="#304a80" stroke="#222" stroke-width="3"/>
<rect x="35" y="685" width="30" height="35" fill="#fff" stroke="#222" stroke-width="3"/>
</g>
<rect x="15" y="240" width="945" height="517" fill="none" stroke="#222" stroke-width="4"/>
</svg>

<!-- story text -->
<svg style="left:355px;top:795px" width="383" height="273" viewBox="0 0 1149 819" font-family="Liberation Serif">
<g font-size="27" fill="#222">
<text x="40" y="56">62. Rechercheur Willems heeft de auto een</text>
<text x="40" y="86">eindje van het bedrijf af geparkeerd en is</text>
<text x="40" y="116">zelf naar binnen gegaan.</text>
<text x="40" y="146">„We hadden toch beter op eigen houtje hier-</text>
<text x="40" y="175">heen kunnen gaan”, moppert Maaike. „Het</text>
<text x="40" y="205">enige wat we vanaf hier kunnen zien is de</text>
<text x="40" y="235">straat. We kunnen zelfs het toegangshek</text>
<text x="40" y="265">niet zien. Zullen we uit de auto stappen?”</text>
<text x="40" y="295">„Naar buiten?” Esmee kijkt geschrokken.</text>
<text x="40" y="325">„Nee, naar binnen, nou goed?” Maaike rolt</text>
<text x="40" y="355">met haar ogen.</text>
<text x="40" y="385">„Rechercheur Willems heeft gezegd dat</text>
<text x="40" y="414">we in de auto moesten blijven”, mompelt</text>
<text x="40" y="444">Björn.</text>
<text x="40" y="474">„Wat zeg je?” Maaike kijkt hem vragend</text>
<text x="40" y="504">aan.</text>
<text x="40" y="534">„Ach, niks. Kom, we gaan naar buiten. Het</text>
<text x="40" y="564">is hier veel te warm.”</text>
<text x="40" y="594">Hij leunt over Alex heen en trekt aan de</text>
<text x="40" y="624">hendel waarmee het portier opengaat.</text>
<text x="40" y="653">Een paar tellen later staan ze buiten. Ver-</text>
<text x="40" y="683">scholen achter de auto.</text>
<text x="40" y="713">„Dit is veel beter”, zucht Alex. Hij haalt een</text>
<text x="40" y="743">paar keer diep adem. De auto was inder-</text>
<text x="557" y="56">daad erg warm. Hij staat pal in de zon en</text>
<text x="557" y="86">zolang ze niet rijden werkt de airco ook</text>
<text x="557" y="116">niet.</text>
<text x="557" y="146">Björn kijkt naar Esmee. Ze ziet bleek.</text>
<text x="557" y="175">„Als je liever in de auto blijft, moet je dat</text>
<text x="557" y="205">gewoon doen, hoor.”</text>
<text x="557" y="235">Esmee schudt haar hoofd. „Ik blijf liever</text>
<text x="557" y="265">bij jullie. Je denkt toch niet dat ik in mijn</text>
<text x="557" y="295">eentje in die auto blijf?”</text>
<text x="557" y="325">„Oké, mij best.” Björn haalt zijn schouders</text>
<text x="557" y="355">op.</text>
<text x="557" y="385">„Blijven we hier staan?” Maaike kijkt hem</text>
<text x="557" y="414">vragend aan.</text>
<text x="557" y="444">Hij kijkt naar de straat. Er komt niemand</text>
<text x="557" y="474">aan.</text>
<text x="557" y="504">„We kunnen wel wat dichter naar het hek</text>
<text x="557" y="534">toe lopen, maar zodra we iemand aan zien</text>
<text x="557" y="564">komen, moeten we ons wel verstoppen.”</text>
<text x="557" y="594">Alex grinnikt en kijkt om zich heen. „Waar</text>
<text x="557" y="624">wil jij je dan zo snel verstoppen?”</text>
<text x="557" y="653">Aan beide kanten van de straat loopt een</text>
<text x="557" y="683">berm. Het gras is pas gemaaid. Zelfs als je</text>
<text x="557" y="713">plat op de grond zou gaan liggen, zou het</text>
<text x="557" y="743">nog ontzettend opvallen.</text>
</g>
</svg>

</body></html>
